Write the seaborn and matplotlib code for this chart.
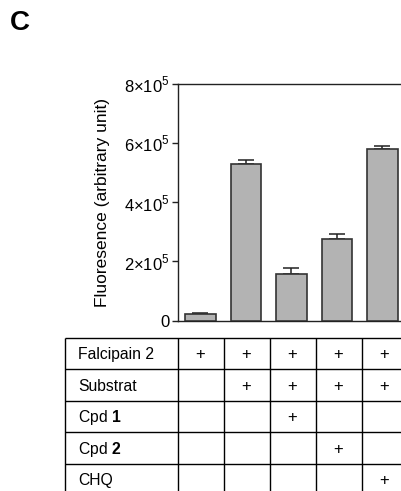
import matplotlib
matplotlib.use("Agg")
import matplotlib.pyplot as plt
import seaborn as sns
import pandas as pd

# bar values
conditions = ["c1", "c2", "c3", "c4", "c5"]
fluo = [2.1e4, 5.29e5, 1.58e5, 2.76e5, 5.78e5]
fluo_err = [0.4e4, 0.13e5, 0.19e5, 0.16e5, 0.11e5]
yticks = [0, 2e5, 4e5, 6e5, 8e5]
ytick_labels = ["0", "2×10$^5$", "4×10$^5$", "6×10$^5$", "8×10$^5$"]

# table below the bars
row_labels = ["Falcipain 2", "Substrat", "Cpd $\\mathbf{1}$", "Cpd $\\mathbf{2}$", "CHQ"]
falcipain = [1, 1, 1, 1, 1]
substrat = [0, 1, 1, 1, 1]
cpd1 = [0, 0, 1, 0, 0]
cpd2 = [0, 0, 0, 1, 0]
chq = [0, 0, 0, 0, 1]

sns.set_style("ticks")
plt.rcParams["font.family"] = ["Liberation Sans", "DejaVu Sans"]
plt.rcParams["mathtext.fontset"] = "custom"
plt.rcParams["mathtext.rm"] = "Liberation Sans"
plt.rcParams["mathtext.bf"] = "Liberation Sans:bold"
for k in ["text.color", "axes.labelcolor", "xtick.color", "ytick.color", "axes.edgecolor"]:
    plt.rcParams[k] = "black"

W, H = 401, 491
fig = plt.figure(figsize=(W / 100, H / 100), dpi=100)

df = pd.DataFrame({"cond": conditions, "fluo": fluo})
ax = fig.add_axes([177.5 / W, (H - 320.7) / H, 227.75 / W, 237.2 / H])
sns.barplot(data=df, x="cond", y="fluo", color="#b3b3b3", edgecolor="#333333",
            linewidth=1.2, width=0.67, saturation=1, ax=ax, zorder=3)
ax.errorbar(range(len(fluo)), fluo, yerr=[[0] * len(fluo), fluo_err], fmt="none",
            ecolor="#222222", elinewidth=1.1, capsize=5.5, capthick=1.1, zorder=2)
ax.set_xlim(-0.5, 4.5)
ax.set_ylim(0, 8e5)
ax.set_yticks(yticks)
ax.set_yticklabels(ytick_labels, fontsize=12)
ax.set_xticks([])
ax.set_xlabel("")
ax.set_ylabel("Fluoresence (arbitrary unit)", fontsize=12.5, labelpad=10)
ax.tick_params(axis="y", length=4.3, width=1, pad=1.5, color="#222222")
for s in ax.spines.values():
    s.set_linewidth(1.0)
    s.set_color("#222222")

# table
axt = fig.add_axes([65 / W, (H - 495.5) / H, 342.5 / W, 157.7 / H])
axt.set_xlim(-2.446, 5)
axt.set_ylim(5, 0)
axt.axis("off")
axt.hlines(range(6), -2.446, 5, color="black", linewidth=1.0, clip_on=False)
axt.vlines([-2.446, 0, 1, 2, 3, 4, 5], 0, 5, color="black", linewidth=1.0, clip_on=False)
for r, (lab, marks) in enumerate(zip(row_labels, [falcipain, substrat, cpd1, cpd2, chq])):
    axt.text(-2.446 + 0.29, r + 0.53, lab, fontsize=11.3, va="center", ha="left")
    for c, m in enumerate(marks):
        if m:
            axt.text(c + 0.5, r + 0.53, "+", fontsize=12, va="center", ha="center")

fig.text(10 / W, 1 - 10 / H, "C", fontsize=20, fontweight="bold", va="top", ha="left")

fig.savefig("out.png", dpi=100)
